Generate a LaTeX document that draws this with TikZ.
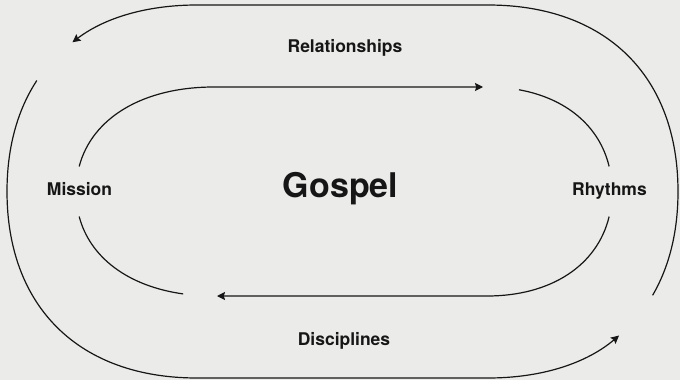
\documentclass[tikz,border=0pt]{standalone}
\usepackage{fontspec}
\setmainfont{TeX Gyre Heros}
\usetikzlibrary{arrows.meta}
\definecolor{bgc}{HTML}{EBEBE9}
\definecolor{ink}{HTML}{161616}
\begin{document}
\begin{tikzpicture}[x=1pt,y=-1pt,
  loopline/.style={draw=ink,line width=1.2pt},
  looparrow/.style={loopline,-{Stealth[length=8pt,width=8pt,inset=1.2pt]}},
  lbl/.style={font=\bfseries\fontsize{17.5}{20}\selectfont,text=ink,anchor=base,inner sep=0pt},
  big/.style={font=\bfseries\fontsize{34}{40}\selectfont,text=ink,anchor=base,inner sep=0pt}]
\fill[bgc] (0,0) rectangle (680,380);
\useasboundingbox (0,0) rectangle (680,380);
% labels
\node[lbl] (rel) at (345,52.5) {Relationships};
\node[big] (gos) at (340.5,197) {Gospel};
\node[lbl] (mis) at (79.5,195) {Mission};
\node[lbl] (rhy) at (609.5,195) {Rhythms};
\node[lbl] (dis) at (344,345) {Disciplines};
% end points
\coordinate (oA0) at (652.6,295.3);
\coordinate (oA1) at (72.45,42.25);
\coordinate (oB0) at (36.82,80.52);
\coordinate (oB1) at (619.03,335.54);
\coordinate (iC0) at (79.17,166.45);
\coordinate (iC1) at (483,87);
\coordinate (iD0) at (518.97,89.76);
\coordinate (iD1) at (609.13,166.45);
\coordinate (iE0) at (609.13,216.54);
\coordinate (iE1) at (217,296);
\coordinate (iF0) at (79.17,216.54);
\coordinate (iF1) at (183.17,293.92);
% outer loop
\draw[looparrow] (oA0) .. controls (669.16,266.94) and (678,231.96) .. (678,191.5)
  .. controls (678,75.9) and (605.8,5) .. (488,5) -- (197,5)
  .. controls (146.35,5) and (104.12,18.11) .. (oA1);
\draw[looparrow] (oB0) .. controls (17.43,110.1) and (7,147.57) .. (7,191.5)
  .. controls (7,307.1) and (79.2,378) .. (197,378) -- (488,378)
  .. controls (542.19,378) and (586.73,363.0) .. (oB1);
% inner loop
\draw[looparrow] (iC0) .. controls (92.0,117.92) and (142.79,87) .. (214,87) -- (iC1);
\draw[loopline] (iD0) .. controls (566.5,98.33) and (599.54,126.38) .. (iD1);
\draw[looparrow] (iE0) .. controls (597.51,265.08) and (551.5,296) .. (487,296) -- (iE1);
\draw[loopline] (iF0) .. controls (90.05,257.74) and (128.3,286.24) .. (iF1);
\end{tikzpicture}
\end{document}
